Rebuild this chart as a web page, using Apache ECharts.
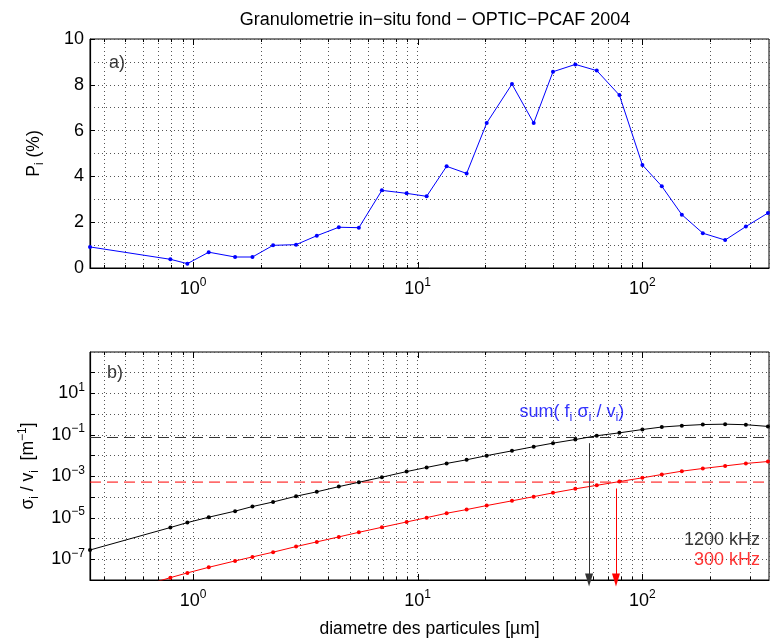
<!DOCTYPE html>
<html>
<head>
<meta charset="utf-8">
<script src="https://cdn.jsdelivr.net/npm/echarts@6/dist/echarts.min.js"></script>
<style>
  html, body { margin: 0; padding: 0; background: #fff; }
  #chart { width: 770px; height: 639px; }
</style>
</head>
<body>
<div id="chart"></div>
<script>
// diametre des particules (um)
const diam = [0.348, 0.793, 0.944, 1.175, 1.539, 1.839, 2.272, 2.876, 3.556, 4.457,
  5.472, 6.927, 8.925, 10.96, 13.45, 16.51, 20.28, 26.28, 32.83, 40.01,
  50.3, 62.65, 79.0, 100, 122, 149.8, 185.8, 233.5, 288.8, 362]
// a) P_i (%)
const pct = [0.92, 0.38, 0.19, 0.69, 0.48, 0.48, 0.99, 1.02, 1.41, 1.78,
  1.76, 3.39, 3.26, 3.13, 4.44, 4.13, 6.33, 8.03, 6.33, 8.57,
  8.89, 8.62, 7.55, 4.50, 3.57, 2.33, 1.52, 1.22, 1.81, 2.40]
// b) sigma_i / v_i (m^-1)
const sigma1200 = [2.8e-7, 3.4e-6, 5.9e-6, 1.07e-5, 2.1e-5, 3.5e-5, 5.8e-5, 1.1e-4, 1.8e-4, 3.2e-4,
  5.2e-4, 9.1e-4, 1.7e-3, 2.7e-3, 4.2e-3, 6.3e-3, 1.0e-2, 1.7e-2, 2.7e-2, 4.0e-2,
  6.0e-2, 9.1e-2, 0.126, 0.182, 0.24, 0.28, 0.316, 0.33, 0.31, 0.257]
const sigma300 = [9e-10, 1.3e-8, 2.2e-8, 4.1e-8, 8.3e-8, 1.3e-7, 2.2e-7, 4.1e-7, 6.9e-7, 1.2e-6,
  2.0e-6, 3.5e-6, 6.3e-6, 1.02e-5, 1.66e-5, 2.5e-5, 3.9e-5, 6.6e-5, 1.05e-4, 1.6e-4,
  2.5e-4, 3.7e-4, 5.6e-4, 8.5e-4, 1.23e-3, 1.78e-3, 2.4e-3, 3.2e-3, 4.2e-3, 5.2e-3]
// sum(f_i sigma_i / v_i) levels and the resulting diameters
const sumLevel1200 = 0.075
const sumLevel300 = 5.3e-4
const arrow1200 = [[57.9, 0.04], [57.9, 1e-8]]
const arrow300 = [[76.3, 2.6e-4], [76.3, 1e-8]]
// x axis range and grid / tick positions of the log x axis
const xRange = [0.348, 366]
const majorX = [1, 10, 100]
const minorX = [0.4, 0.5, 0.6, 0.7, 0.8, 0.9, 2, 3, 4, 5, 6, 7, 8, 9,
  20, 30, 40, 50, 60, 70, 80, 90, 200, 300]

const FONT = '"Liberation Sans", Arial, Helvetica, sans-serif'
const GRID_DOT = { color: '#555', width: 1, type: [1, 3] }

const supRich = {
  sup: { fontSize: 12, verticalAlign: 'top', lineHeight: 13, fontFamily: FONT, color: '#000' },
  sub: { fontSize: 12, verticalAlign: 'bottom', lineHeight: 13, fontFamily: FONT, color: '#000' }
}

const isDecade = (v) => Math.abs(Math.log10(v) - Math.round(Math.log10(v))) < 1e-6
const powLabel = (v) => {
  const e = Math.round(Math.log10(v))
  return '10{sup|' + (e < 0 ? '\u2212' + (-e) : e) + '}'
}

const xLog = (gridIndex, name) => ({
  type: 'log', gridIndex, min: xRange[0], max: xRange[1],
  name, nameLocation: 'middle', nameGap: 40,
  nameTextStyle: { fontSize: 17.5, fontFamily: FONT, color: '#000' },
  axisLine: { show: true, lineStyle: { color: '#000', width: 1.2 } },
  axisTick: { show: false },
  axisLabel: {
    fontSize: 18, fontFamily: FONT, color: '#000', margin: 9, lineHeight: 24,
    showMinLabel: false, showMaxLabel: false,
    formatter: (v) => isDecade(v) ? powLabel(v) : '',
    rich: supRich
  },
  splitLine: { show: true, lineStyle: GRID_DOT }
})

const minorGrid = (params, api) => {
  const cs = params.coordSys
  const x = Math.round(api.coord([api.value(0), 1])[0]) + 0.5
  const b = cs.y + cs.height
  return {
    type: 'group', children: [
      { type: 'line', shape: { x1: x, y1: cs.y, x2: x, y2: b }, style: { stroke: '#555', lineWidth: 1, lineDash: [1, 3] } },
      { type: 'line', shape: { x1: x, y1: b, x2: x, y2: b - 3 }, style: { stroke: '#000', lineWidth: 1 } },
      { type: 'line', shape: { x1: x, y1: cs.y, x2: x, y2: cs.y + 3 }, style: { stroke: '#000', lineWidth: 1 } }
    ]
  }
}
const majorTicks = (params, api) => {
  const cs = params.coordSys
  const x = Math.round(api.coord([api.value(0), 1])[0]) + 0.5
  const b = cs.y + cs.height
  return {
    type: 'group', children: [
      { type: 'line', shape: { x1: x, y1: b, x2: x, y2: b - 6 }, style: { stroke: '#000', lineWidth: 1 } },
      { type: 'line', shape: { x1: x, y1: cs.y, x2: x, y2: cs.y + 6 }, style: { stroke: '#000', lineWidth: 1 } }
    ]
  }
}

const tickSeries = (idx) => [
  { type: 'custom', xAxisIndex: idx, yAxisIndex: idx, silent: true, z: 1,
    renderItem: minorGrid, data: minorX.map((v) => [v, 1]) },
  { type: 'custom', xAxisIndex: idx, yAxisIndex: idx, silent: true, z: 1,
    renderItem: majorTicks, data: majorX.map((v) => [v, 1]) }
]

const levelSeries = (level, color) => ({
  type: 'line', xAxisIndex: 1, yAxisIndex: 1, z: 2, silent: true, symbol: 'none',
  data: [[xRange[0], level], [xRange[1], level]],
  lineStyle: { color, width: 1, type: [11, 6] }
})

const arrowSeries = (arrow, color, headColor) => ({
  type: 'line', xAxisIndex: 1, yAxisIndex: 1, z: 4, silent: true, symbol: 'none',
  data: [],
  markLine: {
    silent: true, symbol: ['none', 'triangle'], symbolSize: [8, 13],
    label: { show: false },
    lineStyle: { color, width: 1, type: 'solid' },
    itemStyle: { color: headColor },
    data: [[{ coord: arrow[0] }, { coord: arrow[1], itemStyle: { color: headColor } }]]
  }
})

const textSeries = (idx, items) => ({
  type: 'scatter', xAxisIndex: idx, yAxisIndex: idx, symbolSize: 0, silent: true, z: 5,
  data: items.map((it) => ({
    value: it.at,
    label: {
      show: true, position: 'inside', formatter: it.text, align: it.align || 'center',
      fontSize: 18, fontFamily: FONT, color: it.color, lineHeight: 24,
      rich: {
        sub: { fontSize: 13, verticalAlign: 'bottom', lineHeight: 13, fontFamily: FONT, color: it.color }
      }
    }
  }))
})

const chart = echarts.init(document.getElementById('chart'))
chart.setOption({
  animation: false,
  backgroundColor: '#fff',
  title: {
    text: 'Granulometrie in\u2212situ fond \u2212 OPTIC\u2212PCAF 2004',
    left: 430, top: 6, textAlign: 'center',
    textStyle: { fontSize: 18, fontWeight: 'normal', fontFamily: FONT, color: '#000' }
  },
  grid: [
    { left: 90, top: 39, width: 679, height: 229, show: true, borderColor: '#000', borderWidth: 1 },
    { left: 90, top: 352, width: 679, height: 228, show: true, borderColor: '#000', borderWidth: 1 }
  ],
  xAxis: [xLog(0, ''), xLog(1, 'diametre des particules [\u00b5m]')],
  yAxis: [
    {
      type: 'value', gridIndex: 0, min: 0, max: 10, interval: 2,
      name: 'P{sub|i} (%)', nameLocation: 'middle', nameGap: 44,
      nameTextStyle: { fontSize: 17.5, fontFamily: FONT, color: '#000', lineHeight: 24, rich: supRich },
      axisLine: { show: true, lineStyle: { color: '#000', width: 1.2 } },
      axisTick: { show: true, inside: true, length: 5, lineStyle: { color: '#000' } },
      axisLabel: { fontSize: 18, fontFamily: FONT, color: '#000', margin: 6 },
      splitLine: { show: true, lineStyle: GRID_DOT },
      minorTick: { show: false, splitNumber: 2 },
      minorSplitLine: { show: true, lineStyle: GRID_DOT }
    },
    {
      type: 'log', gridIndex: 1, min: 1e-8, max: 1e3, interval: 1,
      name: '\u03c3{sub|i} / v{sub|i}  [m{sup|\u22121}]', nameLocation: 'middle', nameGap: 48,
      nameTextStyle: { fontSize: 17.5, fontFamily: FONT, color: '#000', lineHeight: 24, rich: supRich },
      axisLine: { show: true, lineStyle: { color: '#000', width: 1.2 } },
      axisTick: { show: true, inside: true, length: 5, lineStyle: { color: '#000' } },
      axisLabel: {
        fontSize: 18, fontFamily: FONT, color: '#000', margin: 5, lineHeight: 24,
        showMaxLabel: false,
        formatter: (v) => (isDecade(v) && Math.abs(Math.round(Math.log10(v))) % 2 === 1) ? powLabel(v) : '',
        rich: supRich
      },
      splitLine: { show: true, lineStyle: GRID_DOT }
    }
  ],
  series: [
    ...tickSeries(0),
    ...tickSeries(1),
    {
      type: 'line', xAxisIndex: 0, yAxisIndex: 0, z: 3,
      data: diam.map((d, i) => [d, pct[i]]),
      symbol: 'circle', symbolSize: 4, showSymbol: true,
      lineStyle: { color: '#0000ff', width: 1 }, itemStyle: { color: '#0000ff' }
    },
    levelSeries(sumLevel1200, '#333'),
    levelSeries(sumLevel300, '#ff0000'),
    {
      type: 'line', xAxisIndex: 1, yAxisIndex: 1, z: 3,
      data: diam.map((d, i) => [d, sigma1200[i]]),
      symbol: 'circle', symbolSize: 4,
      lineStyle: { color: '#000', width: 1 }, itemStyle: { color: '#000' }
    },
    {
      type: 'line', xAxisIndex: 1, yAxisIndex: 1, z: 3,
      data: diam.map((d, i) => [d, sigma300[i]]),
      symbol: 'circle', symbolSize: 4,
      lineStyle: { color: '#ff0000', width: 1 }, itemStyle: { color: '#ff0000' }
    },
    arrowSeries(arrow1200, '#333', '#000'),
    arrowSeries(arrow300, '#ff0000', '#ff0000'),
    textSeries(0, [{ at: [0.459, 8.94], text: 'a)', color: '#000' }]),
    textSeries(1, [
      { at: [0.45, 100], text: 'b)', color: '#000' },
      { at: [48.6, 1.3], text: 'sum( f{sub|i} \u03c3{sub|i} / v{sub|i})', color: '#0000ff' },
      { at: [334, 8.5e-7], text: '1200 kHz', color: '#000', align: 'right' },
      { at: [334, 9.3e-8], text: '300 kHz', color: '#ff0000', align: 'right' }
    ])
  ]
})
</script>
</body>
</html>
